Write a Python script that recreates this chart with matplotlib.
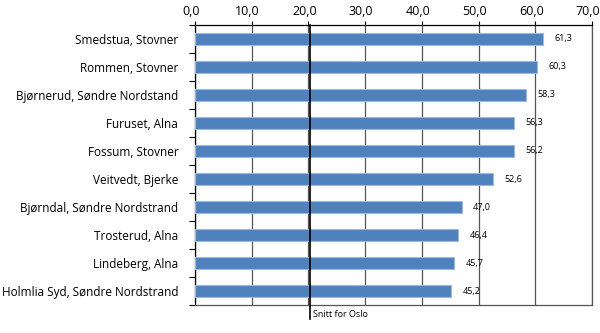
import matplotlib.pyplot as plt
import matplotlib.transforms as mtransforms
import numpy as np

categories = ["Smedstua, Stovner", "Rommen, Stovner", "Bjørnerud, Søndre Nordstand",
              "Furuset, Alna", "Fossum, Stovner", "Veitvedt, Bjerke",
              "Bjørndal, Søndre Nordstrand", "Trosterud, Alna", "Lindeberg, Alna",
              "Holmlia Syd, Søndre Nordstrand"]
values = [61.3, 60.3, 58.3, 56.3, 56.2, 52.6, 47.0, 46.4, 45.7, 45.2]
oslo_avg = 20.2
xticks = [0, 10, 20, 30, 40, 50, 60, 70]

def fmt(v):
    return f"{v:.1f}".replace(".", ",")

plt.rcParams['font.family'] = ['Open Sans', 'DejaVu Sans']
fig = plt.figure(figsize=(6, 3.33), dpi=100)
ax = fig.add_axes([0.325, 0.084, 0.6617, 0.841])

y = np.arange(len(categories))
ax.barh(y, values, height=0.4, color='#4F81BD', edgecolor='#9DB9DE', linewidth=0.8, zorder=3)
for yi, v in zip(y, values):
    ax.text(v + 2.0, yi, fmt(v), va='center', ha='left', fontsize=6.5, zorder=4)

ax.set_xlim(0, 70)
ax.set_ylim(len(categories) - 0.5, -0.5)
ax.xaxis.tick_top()
ax.set_xticks(xticks)
ax.set_xticklabels([fmt(t) for t in xticks], fontsize=9)
ax.tick_params(axis='x', length=3, width=0.8, pad=2, colors='black')
shift = mtransforms.ScaledTranslation(-4 / 100, 0, fig.dpi_scale_trans)
for lbl in ax.get_xticklabels():
    lbl.set_transform(lbl.get_transform() + shift)
ax.set_yticks(y)
ax.set_yticklabels(categories, fontsize=8.5)
ax.set_yticks(np.arange(len(categories) + 1) - 0.5, minor=True)
ax.tick_params(axis='y', which='major', length=0, pad=12)
ax.tick_params(axis='y', which='minor', length=4, width=0.8)
ax.grid(axis='x', color='#555555', linewidth=0.9, zorder=0)
for s in ax.spines.values():
    s.set_color('#555555')
    s.set_linewidth(0.9)
ax.spines['left'].set_color('black')
ax.spines['top'].set_color('black')

ax.plot([oslo_avg, oslo_avg], [-0.5, len(categories) - 0.5 + 0.5], color='black', linewidth=1.2,
        clip_on=False, zorder=5)
ax.text(oslo_avg + 0.6, len(categories) - 0.5 + 0.35, "Snitt for Oslo", fontsize=6.5,
        va='center', ha='left')

fig.savefig("out.png", dpi=100)
